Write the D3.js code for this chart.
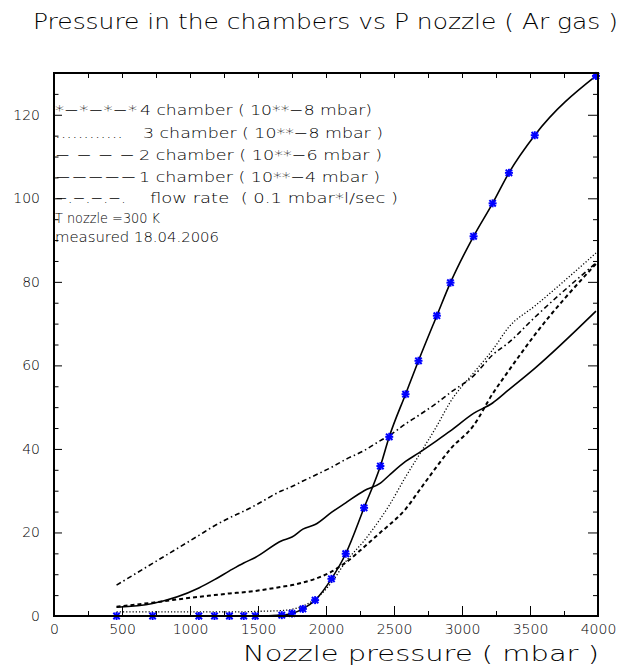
<!DOCTYPE html>
<html>
<head>
<meta charset="utf-8">
<script src="https://cdn.jsdelivr.net/npm/d3@7"></script>
<style>
  html, body { margin: 0; padding: 0; background: #fff; }
  svg { display: block; }
  text { font-family: "DejaVu Sans", "Liberation Sans", sans-serif; font-weight: 200; fill: #000; white-space: pre; }
</style>
</head>
<body>
<svg id="chart" width="620" height="668"></svg>
<script>
// Nozzle pressure (mbar) at which the chambers were read
const pressure = [460, 725, 1065, 1180, 1290, 1395, 1480, 1675, 1750, 1830, 1920, 2040, 2145,
                  2280, 2400, 2465, 2585, 2680, 2815, 2915, 3085, 3225, 3345, 3535, 3985];

// Chamber pressures in the units given in the legend
const chamber4 = [0, 0, 0, 0, 0, 0, 0, 0.2, 0.6, 1.7, 3.8, 8.9, 14.9,
                  25.9, 35.9, 42.9, 53.1, 61.1, 71.9, 79.8, 90.9, 98.8, 106.1, 115.1, 129.3];
const chamber3 = [1.0, 1.0, 1.0, 1.0, 1.0, 1.0, 1.1, 1.3, 1.6, 2.4, 4.0, 8.0, 13.0,
                  18.0, 23.3, 26.5, 33.3, 38.3, 45.5, 51.3, 58.2, 63.7, 69.2, 74.2, 86.9];
const chamber2 = [2.2, 3.2, 4.6, 5.0, 5.4, 5.7, 6.0, 7.0, 7.4, 8.0, 8.9, 10.6, 12.8,
                  16.5, 20.0, 21.8, 25.6, 29.8, 35.8, 40.0, 45.6, 53.2, 58.8, 67.3, 84.3];
const chamber1 = [2.1, 3.0, 6.7, 8.7, 10.8, 12.7, 14.0, 18.0, 18.9, 20.8, 21.9, 24.8, 27.1,
                  30.0, 31.8, 33.7, 37.0, 39.0, 42.0, 44.3, 48.5, 51.0, 54.2, 59.3, 73.0];
const flowRate = [7.4, 12.6, 19.3, 21.6, 23.5, 25.1, 26.5, 30.0, 31.0, 32.3, 33.7, 35.6, 37.5,
                  39.6, 42.0, 43.2, 46.0, 48.0, 51.0, 53.5, 57.5, 62.5, 65.5, 71.5, 84.5];

// Axis tick values and labels
const xMajor = [0, 500, 1000, 1500, 2000, 2500, 3000, 3500, 4000];
const xMinor = [250, 750, 1250, 1750, 2250, 2750, 3250, 3750];
const yMajor = [0, 20, 40, 60, 80, 100, 120];

const titleText = "Pressure in the chambers vs P nozzle ( Ar gas )";
const xTitle = "Nozzle pressure ( mbar )";

// Legend rows: line sample + description
const legendRows = [
  { sample: "*\u2212*\u2212*\u2212*", label: "4 chamber ( 10**\u22128 mbar)" },
  { sample: "............", label: "3 chamber ( 10**\u22128 mbar )" },
  { sample: "\u2212 \u2212 \u2212 \u2212", label: "2 chamber ( 10**\u22126 mbar )" },
  { sample: "\u2212\u2212\u2212\u2212\u2212", label: "1 chamber ( 10**\u22124 mbar )" },
  { sample: "\u2212.\u2212.\u2212.\u2212.", label: "flow rate  ( 0.1 mbar*l/sec )" }
];
const notes = ["T nozzle =300 K", "measured 18.04.2006"];

const svg = d3.select("#chart");
const frameL = 54, frameR = 598, frameT = 73, frameB = 616;

const x = d3.scaleLinear().domain([0, 4000]).range([frameL, frameR]);
const y = d3.scaleLinear().domain([0, 130]).range([frameB, frameT]);

// Title
svg.append("text")
  .attr("x", 33).attr("y", 29)
  .attr("font-size", 21)
  .attr("textLength", 585).attr("lengthAdjust", "spacingAndGlyphs")
  .text(titleText);

// Ticks (all pointing into the frame)
function tickAxis(gen, tr, vals, size, labels) {
  const g = svg.append("g").attr("transform", tr)
    .call(gen.tickValues(vals).tickSize(-size).tickSizeOuter(0)
      .tickPadding(labels ? 8 : 0)
      .tickFormat(labels ? d3.format("d") : () => ""));
  g.select(".domain").remove();
  g.selectAll("line").attr("stroke", "#000").attr("stroke-width", 1);
  g.selectAll("text").attr("font-size", 14).attr("font-family", null);
  return g;
}
tickAxis(d3.axisBottom(x), `translate(0,${frameB})`, xMajor, 10, true);
tickAxis(d3.axisBottom(x), `translate(0,${frameB})`, xMinor, 5, false);
tickAxis(d3.axisTop(x), `translate(0,${frameT})`, xMajor.concat(xMinor), 5, false);
const yMinor = d3.range(5, 130, 5).filter(v => v % 20 !== 0);
tickAxis(d3.axisLeft(y), `translate(${frameL},0)`, yMajor, 8, true)
  .selectAll("text").attr("x", -14);
tickAxis(d3.axisLeft(y), `translate(${frameL},0)`, yMinor, 4.5, false);
tickAxis(d3.axisRight(y), `translate(${frameR},0)`, yMajor, 10, false);
tickAxis(d3.axisRight(y), `translate(${frameR},0)`, yMinor, 5, false);

// Curves
const series = [
  { values: flowRate, dash: "5,3,1.5,3", width: 1.6 },
  { values: chamber1, dash: null, width: 1.6 },
  { values: chamber2, dash: "4,3", width: 2 },
  { values: chamber3, dash: "1.2,2", width: 1.3 },
  { values: chamber4, dash: null, width: 1.6 }
];
const line = d3.line()
  .x(d => x(d[0])).y(d => y(d[1]))
  .curve(d3.curveMonotoneX);
series.forEach(s => {
  svg.append("path")
    .datum(pressure.map((p, i) => [p, s.values[i]]))
    .attr("d", line)
    .attr("fill", "none")
    .attr("stroke", "#000")
    .attr("stroke-width", s.width)
    .attr("stroke-dasharray", s.dash);
});

// Star markers on the 4th chamber curve
const star = svg.append("g");
pressure.forEach((p, i) => {
  const cx = x(p), cy = y(chamber4[i]), r = 4;
  const g = star.append("g").attr("transform", `translate(${cx},${cy})`);
  [[-r, 0, r, 0], [0, -r, 0, r], [-r * 0.8, -r * 0.8, r * 0.8, r * 0.8], [-r * 0.8, r * 0.8, r * 0.8, -r * 0.8]]
    .forEach(([a, b, c, d]) => g.append("line")
      .attr("x1", a).attr("y1", b).attr("x2", c).attr("y2", d)
      .attr("stroke", "#0000ff").attr("stroke-width", 2));
});

// Frame
svg.append("rect")
  .attr("x", frameL).attr("y", frameT)
  .attr("width", frameR - frameL).attr("height", frameB - frameT)
  .attr("fill", "none").attr("stroke", "#000").attr("stroke-width", 2);

// Legend text
const rowY = [115, 138, 160, 182, 203];
const sampleW = [82, 68, 80, 82, 71];
const labelX = [140, 143, 139, 139, 150];
const labelW = [232, 240, 243, 241, 248];
legendRows.forEach((r, i) => {
  svg.append("text").attr("x", 55).attr("y", rowY[i]).attr("font-size", 14)
    .attr("textLength", sampleW[i]).attr("lengthAdjust", "spacingAndGlyphs").text(r.sample);
  svg.append("text").attr("x", labelX[i]).attr("y", rowY[i]).attr("font-size", 14)
    .attr("textLength", labelW[i]).attr("lengthAdjust", "spacingAndGlyphs").text(r.label);
});
const noteY = [223, 242];
const noteW = [105, 164];
notes.forEach((t, i) => {
  svg.append("text").attr("x", 55).attr("y", noteY[i]).attr("font-size", 14)
    .attr("textLength", noteW[i]).attr("lengthAdjust", "spacingAndGlyphs").text(t);
});

// X axis title
svg.append("text")
  .attr("x", 243).attr("y", 661)
  .attr("font-size", 22)
  .attr("textLength", 356).attr("lengthAdjust", "spacingAndGlyphs")
  .text(xTitle);
</script>
</body>
</html>
